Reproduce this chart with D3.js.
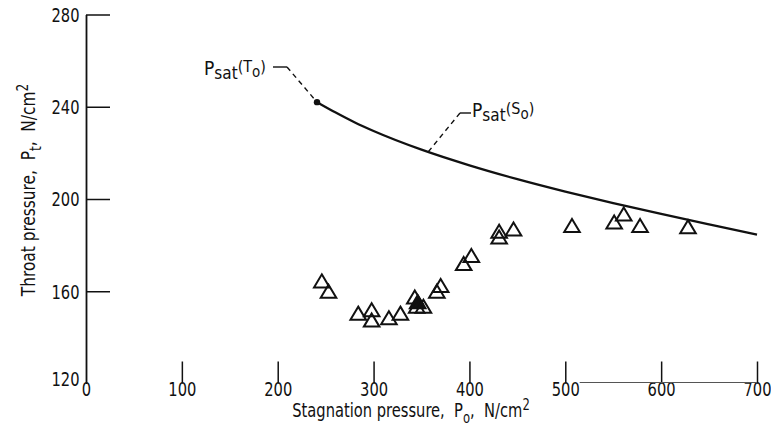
<!DOCTYPE html>
<html>
<head>
<meta charset="utf-8">
<script src="https://cdn.jsdelivr.net/npm/d3@7/dist/d3.min.js"></script>
<style>
  html, body { margin: 0; padding: 0; background: #fff; }
  svg { display: block; }
  text { fill: #111; }
</style>
</head>
<body>
<svg id="chart" width="771" height="441"></svg>
<script>
// Measured throat pressure against stagnation pressure (N/cm^2)
const stagnationP = [246, 253, 284, 298, 298, 316, 328, 343, 346, 345, 352, 366, 370, 394, 402, 431, 431, 446, 507, 551, 561, 578, 628];
const throatP     = [164.5, 160, 150.5, 152, 147.5, 148.5, 150.5, 157.5, 155.5, 153.5, 153.5, 160, 162.5, 172, 175.5, 186, 183.5, 187, 188.5, 190, 193.5, 188.5, 188];
const solidPoint  = [false, false, false, false, false, false, false, false, true, false, false, false, false, false, false, false, false, false, false, false, false, false, false];

// Saturation pressure at stagnation entropy, P_sat(S_o)
const satP0 = [241, 260, 280, 300, 350, 400, 450, 500, 550, 600, 650, 700];
const satPt = [242, 237.6, 233.3, 229.5, 221.4, 214.6, 208.6, 203.2, 198.2, 193.5, 189, 184.6];

// Point P_sat(T_o) where the curve starts
const startPoint = [241, 242];

const xTicks = [0, 100, 200, 300, 400, 500, 600, 700];
const yTicks = [120, 160, 200, 240, 280];

const FONT = '"DejaVu Sans Condensed", "Liberation Sans Narrow", sans-serif';
const NARROW = 0.86;   // horizontal squeeze for the tall, narrow lettering

const svg = d3.select("#chart");
const x = d3.scaleLinear().domain([0, 700]).range([86, 757]);
const y = d3.scaleLinear().domain([120, 280]).range([383.5, 14.5]);

// Y axis: ticks point inward
const yAxis = svg.append("g")
  .attr("transform", `translate(${x(0)},0)`)
  .call(d3.axisLeft(y).tickValues(yTicks).tickSizeInner(-24).tickSizeOuter(0).tickPadding(6));
yAxis.select(".domain").attr("stroke", "#111").attr("stroke-width", 1.8);
yAxis.selectAll(".tick line").attr("stroke", "#111").attr("stroke-width", 1.5)
  .filter(d => d === 120).remove();
yAxis.selectAll(".tick text")
  .attr("font-family", FONT).attr("font-size", 19).attr("fill", "#111")
  .attr("x", -6.5 / NARROW)
  .attr("transform", `scale(${NARROW},1)`)
  .attr("dy", d => d === 120 ? "0.08em" : "0.36em");

// X axis: ticks rise from the bottom edge, no full baseline
const xAxis = svg.append("g")
  .attr("transform", `translate(0,${y(120)})`)
  .call(d3.axisBottom(x).tickValues(xTicks).tickSizeInner(-22).tickSizeOuter(0).tickPadding(2));
xAxis.select(".domain").remove();
xAxis.selectAll(".tick line").attr("stroke", "#111").attr("stroke-width", 1.5)
  .filter(d => d === 0).remove();
xAxis.selectAll(".tick text")
  .attr("font-family", FONT).attr("font-size", 19).attr("fill", "#111")
  .attr("transform", `scale(${NARROW},1)`)
  .attr("dy", "0.56em");

// faint remnant of the baseline on the right
svg.append("line")
  .attr("x1", x(515)).attr("x2", x(700))
  .attr("y1", y(120) - 1).attr("y2", y(120) - 1)
  .attr("stroke", "#555").attr("stroke-width", 1);

// Axis titles
const xTitle = svg.append("text")
  .attr("transform", `translate(411,417) scale(${NARROW},1)`)
  .attr("text-anchor", "middle")
  .attr("font-family", FONT).attr("font-size", 19)
  .style("white-space", "pre");
xTitle.append("tspan").text("Stagnation pressure,  P");
xTitle.append("tspan").attr("font-size", 15).attr("dy", 6).text("o");
xTitle.append("tspan").attr("dy", -6).text(",  N/cm");
xTitle.append("tspan").attr("font-size", 15).attr("dy", -7).text("2");

const yTitle = svg.append("text")
  .attr("transform", `translate(35,190) rotate(-90) scale(0.9,1)`)
  .attr("text-anchor", "middle")
  .attr("font-family", FONT).attr("font-size", 19)
  .style("white-space", "pre");
yTitle.append("tspan").text("Throat pressure,  P");
yTitle.append("tspan").attr("font-size", 15).attr("dy", 6).text("t");
yTitle.append("tspan").attr("dy", -6).text(",  N/cm");
yTitle.append("tspan").attr("font-size", 15).attr("dy", -7).text("2");

// Saturation curve
const curveData = satP0.map((p, i) => [p, satPt[i]]);
svg.append("path")
  .datum(curveData)
  .attr("fill", "none")
  .attr("stroke", "#111")
  .attr("stroke-width", 2.3)
  .attr("d", d3.line().x(d => x(d[0])).y(d => y(d[1])).curve(d3.curveMonotoneX));

svg.append("circle")
  .attr("cx", x(startPoint[0])).attr("cy", y(startPoint[1]))
  .attr("r", 3.2).attr("fill", "#111");

// Open triangle marker, centred on its bounding box
const openTriangle = {
  draw(context, size) {
    const w = Math.sqrt(size * 4 / Math.sqrt(3));
    const h = w * 0.84;
    context.moveTo(0, -h / 2);
    context.lineTo(w / 2, h / 2);
    context.lineTo(-w / 2, h / 2);
    context.closePath();
  }
};
const tri = d3.symbol().type(openTriangle).size(105);
svg.append("g").selectAll("path")
  .data(stagnationP.map((p, i) => ({ p, t: throatP[i], solid: solidPoint[i] })))
  .join("path")
  .attr("transform", d => `translate(${x(d.p)},${y(d.t)})`)
  .attr("d", tri)
  .attr("fill", d => d.solid ? "#111" : "none")
  .attr("stroke", "#111")
  .attr("stroke-width", 2)
  .attr("stroke-linejoin", "miter");

// Curve annotations
function satLabel(tx, ty, sub) {
  const t = svg.append("text").attr("x", tx).attr("y", ty)
    .attr("font-family", FONT).attr("font-size", 19);
  t.append("tspan").text("P");
  t.append("tspan").attr("font-size", 17).attr("dy", 4).text("sat");
  t.append("tspan").attr("font-size", 16).attr("dy", -7).text("(" + sub);
  t.append("tspan").attr("font-size", 15).attr("dy", 5).text("o");
  t.append("tspan").attr("font-size", 16).attr("dy", -5).text(")");
  return t;
}

satLabel(204, 75, "T");
svg.append("line").attr("x1", 273).attr("x2", 287).attr("y1", 67).attr("y2", 67)
  .attr("stroke", "#111").attr("stroke-width", 1.4);
svg.append("line").attr("x1", 287).attr("y1", 67)
  .attr("x2", x(startPoint[0])).attr("y2", y(startPoint[1]))
  .attr("stroke", "#111").attr("stroke-width", 1.4).attr("stroke-dasharray", "5,4");

satLabel(472, 117, "S");
const leaderP0 = 357;
const leaderPt = d3.interpolateNumber(satPt[4], satPt[5])((leaderP0 - satP0[4]) / (satP0[5] - satP0[4]));
svg.append("line").attr("x1", 460).attr("x2", 471).attr("y1", 113).attr("y2", 113)
  .attr("stroke", "#111").attr("stroke-width", 1.4);
svg.append("line").attr("x1", 460).attr("y1", 113)
  .attr("x2", x(leaderP0)).attr("y2", y(leaderPt))
  .attr("stroke", "#111").attr("stroke-width", 1.4).attr("stroke-dasharray", "5,4");
</script>
</body>
</html>
